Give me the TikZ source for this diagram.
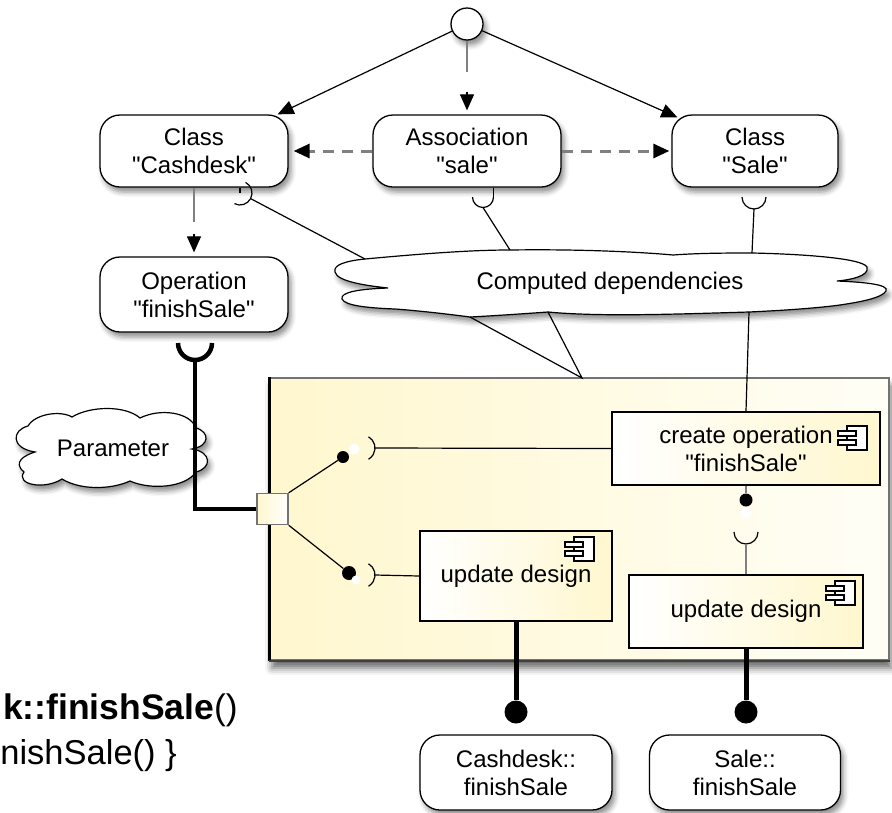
\documentclass[tikz,border=0pt]{standalone}
\usepackage{fontspec}
\setmainfont{Liberation Sans}[Ligatures=TeXOff]
\usetikzlibrary{arrows.meta,shadows.blur,calc}

\definecolor{compL}{RGB}{255,247,206}
\definecolor{compR}{RGB}{255,254,246}
\definecolor{linegray}{RGB}{128,128,128}

\tikzset{
  shadowed/.style={blur shadow={shadow xshift=3pt, shadow yshift=-5pt, shadow blur radius=5pt, shadow opacity=45}},
  pill/.style={draw, line width=1.3pt, fill=white, rounded corners=20pt, align=center, inner sep=0pt, shadowed},
  taskbox/.style={draw, line width=1.5pt, left color=white, right color=compL, align=center, inner sep=0pt},
  conn/.style={line width=1.2pt},
  grayconn/.style={line width=1.6pt, draw=linegray},
  headarrow/.style={-{Triangle[length=16pt,width=14pt,color=black]}},
  dashconn/.style={line width=3pt, draw=linegray, dash pattern=on 11pt off 8pt},
  heavy/.style={line width=4.5pt},
  ballnode/.style={circle, fill=black, inner sep=0pt},
  glownode/.style={circle, fill=white, inner sep=0pt, minimum size=11pt},
  compicon/.pic={
    \draw[line width=1.2pt, fill=white] (-6,-12) rectangle (14,12);
    \draw[line width=1.5pt, fill=white] (-15,-7) rectangle (3,-2);
    \draw[line width=1.5pt, fill=white] (-15,2) rectangle (3,7);
  }
}

\begin{document}
\begin{tikzpicture}[x=1pt, y=-1pt, font=\fontsize{24}{28}\selectfont]
\useasboundingbox (0,0) rectangle (892,812);

% ---- model elements at the top ----
\node[circle, draw, line width=1.3pt, fill=white, minimum size=32pt, inner sep=0pt, shadowed] (start) at (467,24) {};
\node[pill, minimum width=188pt, minimum height=72pt] (cashdesk) at (194,151) {Class\\"Cashdesk"};
\node[pill, minimum width=188pt, minimum height=72pt] (assoc) at (467,151) {Association\\"sale"};
\node[pill, minimum width=166pt, minimum height=72pt] (sale) at (755,151) {Class\\"Sale"};
\node[pill, minimum width=188pt, minimum height=75pt] (oper) at (194,294.5) {Operation\\"finishSale"};

\draw[conn, headarrow] (start) -- ([xshift=-11pt]cashdesk.north east);
\draw[conn, headarrow] (start) -- ([xshift=6pt,yshift=-3pt]sale.north west);

\coordinate (assocStem) at (467,72);
\coordinate (assocHead) at (467,92);
\draw[grayconn] (start) -- (assocStem);
\draw[conn, headarrow, shorten >=4pt] (assocHead) -- (assoc.north);

\draw[dashconn, headarrow, shorten >=5pt] (assoc.west) -- (cashdesk.east);
\draw[dashconn, headarrow, shorten >=2pt] (assoc.east) -- (sale.west);

\coordinate (cdStem) at (194,222);
\coordinate (cdHead) at (194,234);
\draw[grayconn] (cashdesk.south) -- (cdStem);
\draw[conn, headarrow, shorten >=4pt] (cdHead) -- (oper.north);

% ---- sockets below the classes and the association ----
\coordinate (sockCd) at (240,193);
\coordinate (sockCdB) at ($(sockCd)+(-27.8:12pt)$);
\draw[conn] (cashdesk.south -| sockCd) -- (sockCd);
\draw[conn] (sockCd) ++(62.2:12pt) arc[start angle=62.2, end angle=-117.8, radius=12pt];

\coordinate (asRim) at (493.5,197);
\coordinate (sockAsB) at (483,207.5);
\draw[conn] (asRim |- assoc.south) -- (asRim);
\draw[conn] (asRim) arc[start angle=0, end angle=-180, radius=10.5pt];

\coordinate (saRim) at (766,197);
\coordinate (sockSaB) at (754,209);
\draw[conn] (saRim) arc[start angle=0, end angle=-180, radius=12pt];

% ---- component frame ----
\node[draw=black!55, line width=1.5pt, left color=compL, right color=compR, minimum width=619pt, minimum height=282pt, inner sep=0pt,
      blur shadow={shadow xshift=2pt, shadow yshift=-8pt, shadow blur radius=7pt, shadow opacity=60}] (comp) at (579.5,519) {};
\draw[line width=3pt] (comp.north west) -- (comp.south west);
\draw[line width=2.5pt, draw=black!75] (comp.south west) -- (comp.south east);

% ---- computed dependencies cloud ----
\path[draw, line width=1.2pt, fill=white, shadowed]
  (365,259) .. controls (440,252) and (480,250) .. (510,250)
  .. controls (580,249) and (640,252) .. (673,255)
  .. controls (700,253) and (730,253) .. (752,253)
  .. controls (800,254) and (862,258) .. (867,267)
  .. controls (870,276) and (850,280) .. (837,281)
  .. controls (860,282) and (890,284) .. (886,291)
  .. controls (882,298) and (860,302) .. (840,305)
  .. controls (810,309) and (770,311) .. (749,312)
  .. controls (680,314) and (600,317) .. (548,312)
  .. controls (520,314) and (490,316) .. (470,317)
  .. controls (440,313) and (410,310) .. (395,309)
  .. controls (370,308) and (345,306) .. (342,299)
  .. controls (340,292) and (360,289) .. (388,288)
  .. controls (370,286) and (337,282) .. (335,272)
  .. controls (333,265) and (345,261) .. (365,259) -- cycle;
\node (deps) at (610,283) {Computed dependencies};
\coordinate (depTL) at (365,259);
\coordinate (depT1) at (510,250);
\coordinate (depT2) at (752,253);
\coordinate (depB1) at (470,317);
\coordinate (depB2) at (548,312);
\coordinate (depB3) at (749,312);
\coordinate (depsFoot) at (582,378);

\draw[conn] (sockCdB) -- (depTL);
\draw[conn] (sockAsB) -- (depT1);
\draw[conn] (sockSaB) -- (depT2);
\draw[conn] (depB1) -- (depsFoot) -- (depB2);

% ---- inner parts ----
\node[taskbox, minimum width=268pt, minimum height=73pt] (createop) at (746,448.5) {create operation\\"finishSale"};
\node[taskbox, minimum width=192pt, minimum height=90pt] (updL) at (516,576) {update design};
\node[taskbox, minimum width=234pt, minimum height=73pt] (updR) at (746,611.5) {update design};
\pic at (853,438) {compicon};
\pic at (580,549) {compicon};
\pic at (841,593) {compicon};

\draw[conn] (depB3) -- (createop.north);

% port on the frame
\node[draw=black!55, line width=1.5pt, left color=compL, right color=white, minimum size=31pt, inner sep=0pt] (port) at (272.5,509) {};

% ---- parameter cloud and the delegation line ----
\path[draw, line width=1.2pt, fill=white, shadowed]
  (28,426) .. controls (35,414) and (60,410) .. (72,417)
  .. controls (90,406) and (125,405) .. (140,418)
  .. controls (160,408) and (190,412) .. (196,428)
  .. controls (210,432) and (210,446) .. (192,449)
  .. controls (212,452) and (212,468) .. (196,472)
  .. controls (185,488) and (150,490) .. (130,481)
  .. controls (110,490) and (80,490) .. (62,479)
  .. controls (45,490) and (15,485) .. (24,472)
  .. controls (12,462) and (25,455) .. (35,452)
  .. controls (10,448) and (12,430) .. (28,426) -- cycle;
\node (param) at (113,448) {Parameter};

\coordinate (opSock) at (195,343);
\coordinate (opSockB) at (195,360);
\draw[heavy] (opSock) ++(-17pt,0) arc[start angle=180, end angle=360, radius=17pt];
\draw[heavy] (opSockB) |- (port.west);

% ---- ball and socket connections inside the frame ----
\node[ballnode, minimum size=12pt] (ballU) at (343,457) {};
\node[glownode] (glowU) at (354,449) {};
\coordinate (sockU) at (362,448);
\coordinate (sockUR) at (375,448);
\draw[conn] (sockU) ++(60:13pt) arc[start angle=60, end angle=-60, radius=13pt];
\draw[conn] (port.north east) -- (ballU);
\draw[conn] (sockUR) -- (createop.west);

\node[ballnode, minimum size=14pt] (ballD) at (349,573) {};
\node[glownode, minimum size=9pt] (glowD) at (356,580) {};
\coordinate (sockD) at (362,575);
\coordinate (sockDR) at (375,575);
\draw[conn] (sockD) ++(60:13pt) arc[start angle=60, end angle=-60, radius=13pt];
\draw[conn] (port.south east) -- (ballD);
\draw[conn] (sockDR) -- (updL.west);

\node[ballnode, minimum size=13pt] (ballV) at (746,500) {};
\node[glownode] (glowV) at (746,513) {};
\coordinate (sockV) at (746,532);
\coordinate (sockVB) at (746,544);
\draw[grayconn] (createop.south) -- (ballV);
\draw[conn] (sockV) ++(-12pt,0) arc[start angle=180, end angle=360, radius=12pt];
\draw[grayconn] (sockVB) -- (updR.north);

% ---- generated operations ----
\node[ballnode, minimum size=23pt] (dropL) at (516,712) {};
\node[ballnode, minimum size=23pt] (dropR) at (746,712) {};
\draw[line width=5pt] (updL.south) -- (dropL);
\draw[line width=5pt] (updR.south) -- (dropR);

\node[pill, minimum width=192pt, minimum height=75pt] (cdFin) at (516,772.5) {Cashdesk::\\finishSale};
\node[pill, minimum width=191pt, minimum height=75pt] (saleFin) at (745,772.5) {Sale::\\finishSale};

% ---- code fragment ----
\node[anchor=base east, inner sep=0pt, font=\fontsize{35.5}{40}\selectfont] (codeA) at (238,719) {\textbf{k::finishSale}()};
\node[anchor=base east, inner sep=0pt, font=\fontsize{34.5}{40}\selectfont] (codeB) at (177,764) {nishSale() \}};
\end{tikzpicture}
\end{document}
